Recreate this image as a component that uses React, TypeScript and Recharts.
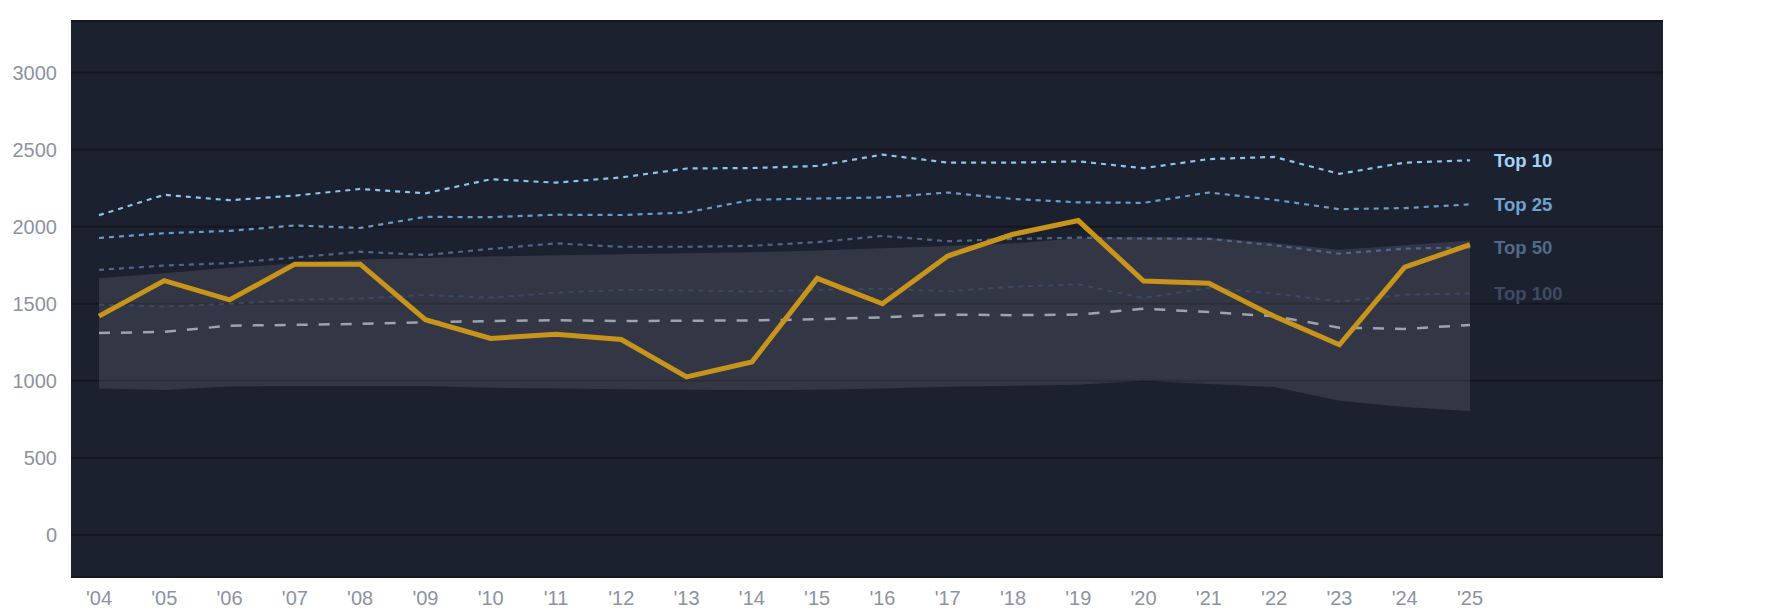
import React from 'react';
import { ComposedChart, Line, Area, XAxis, YAxis, CartesianGrid, LabelList } from 'recharts';

const years = ["'04","'05","'06","'07","'08","'09","'10","'11","'12","'13","'14","'15","'16","'17","'18","'19","'20","'21","'22","'23","'24","'25"];
const player = [1420,1650,1525,1757,1757,1397,1275,1302,1268,1026,1122,1665,1500,1810,1951,2040,1648,1633,1419,1234,1737,1884];
const top10 = [2075,2207,2172,2202,2245,2217,2308,2286,2320,2378,2381,2394,2468,2416,2416,2424,2380,2439,2453,2343,2416,2431];
const top25 = [1927,1958,1973,2008,1992,2064,2062,2078,2076,2092,2175,2183,2190,2222,2180,2158,2155,2222,2175,2114,2121,2145];
const top50 = [1720,1748,1764,1800,1838,1816,1856,1892,1870,1870,1876,1900,1940,1906,1921,1929,1923,1921,1880,1825,1858,1866];
const top100 = [1495,1482,1500,1525,1535,1557,1540,1572,1590,1588,1579,1590,1597,1581,1611,1626,1537,1603,1567,1515,1559,1567];
const median = [1310,1318,1358,1363,1370,1380,1388,1393,1388,1390,1392,1400,1412,1430,1426,1430,1468,1446,1419,1345,1337,1362];
const bandLow = [950,940,964,966,966,966,955,950,945,942,940,942,950,962,968,975,1000,980,960,870,830,805];
const bandHigh = [1665,1698,1733,1762,1788,1797,1806,1815,1822,1828,1835,1845,1860,1875,1892,1925,1935,1930,1895,1850,1880,1910];
const yTicks = [0,500,1000,1500,2000,2500,3000];

const data = years.map((year, i) => ({
  year,
  player: player[i],
  top10: top10[i],
  top25: top25[i],
  top50: top50[i],
  top100: top100[i],
  median: median[i],
  band: [bandLow[i], bandHigh[i]],
}));

const FONT = '"Liberation Sans", Arial, Helvetica, sans-serif';
const last = years.length - 1;

const endLabel = (text: string, color: string) => (props: any) => {
  const { x, y, index } = props;
  if (index !== last) return null;
  return (
    <text x={x + 24} y={y} dy="0.35em" fill={color} fontSize={18.5} fontWeight="bold" fontFamily={FONT} textAnchor="start">
      {text}
    </text>
  );
};

export default function App() {
  return (
    <div style={{ fontFamily: FONT, width: 1769, height: 598, overflow: 'visible' }}>
      <ComposedChart width={1769} height={606} data={data} margin={{ top: 13, right: 114, left: 0, bottom: 8 }}>
        <CartesianGrid vertical={false} fill="#1c2130" stroke="#14171f" strokeWidth={2} />
        <XAxis
          dataKey="year"
          scale="point"
          padding={{ left: 28, right: 193 }}
          axisLine={false}
          tickLine={false}
          tickMargin={8}
          height={29}
          interval={0}
          tick={{ fill: '#8b93a3', fontSize: 20, fontFamily: FONT }}
        />
        <YAxis
          type="number"
          domain={[-273, 3335]}
          ticks={yTicks}
          axisLine={false}
          tickLine={false}
          tickMargin={8}
          width={63}
          tick={{ fill: '#8b93a3', fontSize: 20, fontFamily: FONT }}
        />
        <Area dataKey="band" stroke="none" fill="#ffffff" fillOpacity={0.1} isAnimationActive={false} type="linear" />
        <Line dataKey="median" stroke="#9fa3ab" strokeWidth={2.5} strokeDasharray="11 11" dot={false} isAnimationActive={false} type="linear" />
        <Line dataKey="top100" stroke="#3c4963" strokeWidth={2} strokeDasharray="5 5" dot={false} isAnimationActive={false} type="linear">
          <LabelList dataKey="top100" content={endLabel('Top 100', '#3e4b63')} />
        </Line>
        <Line dataKey="top50" stroke="#4d6689" strokeWidth={2.2} strokeDasharray="5 5" dot={false} isAnimationActive={false} type="linear">
          <LabelList dataKey="top50" content={endLabel('Top 50', '#52698a')} />
        </Line>
        <Line dataKey="top25" stroke="#6a9cc8" strokeWidth={2.2} strokeDasharray="5 5" dot={false} isAnimationActive={false} type="linear">
          <LabelList dataKey="top25" content={endLabel('Top 25', '#6fa2cf')} />
        </Line>
        <Line dataKey="top10" stroke="#8ec5ec" strokeWidth={2.2} strokeDasharray="5 5" dot={false} isAnimationActive={false} type="linear">
          <LabelList dataKey="top10" content={endLabel('Top 10', '#a3d4f7')} />
        </Line>
        <Line dataKey="player" stroke="#c8951a" strokeWidth={5} dot={false} isAnimationActive={false} type="linear" />
      </ComposedChart>
    </div>
  );
}
